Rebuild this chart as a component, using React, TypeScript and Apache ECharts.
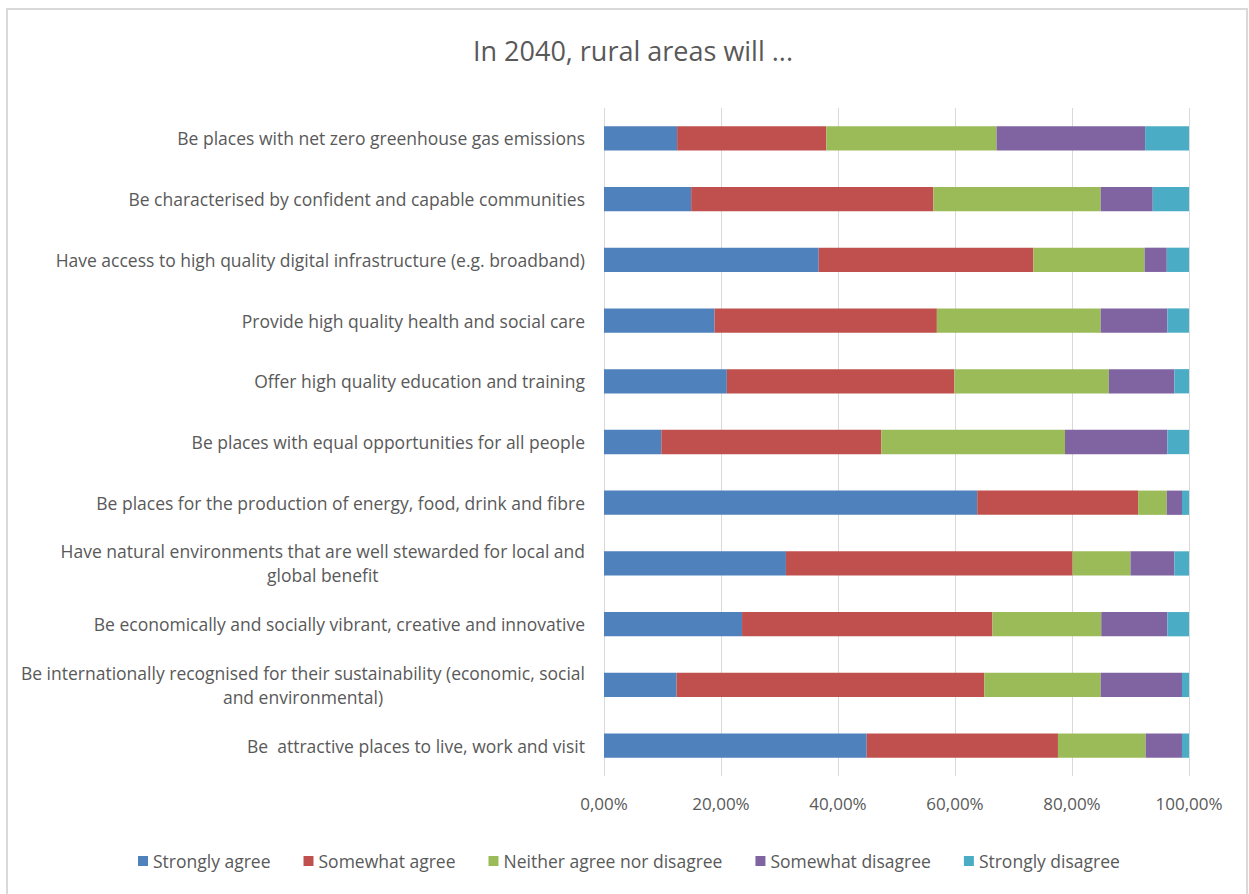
import React, { useEffect, useRef } from "react";
import * as echarts from "echarts";

const categories = [
  "Be places with net zero greenhouse gas emissions",
  "Be characterised by confident and capable communities",
  "Have access to high quality digital infrastructure (e.g. broadband)",
  "Provide high quality health and social care",
  "Offer high quality education and training",
  "Be places with equal opportunities for all people",
  "Be places for the production of energy, food, drink and fibre",
  "Have natural environments that are well stewarded for local and\nglobal benefit",
  "Be economically and socially vibrant, creative and innovative",
  "Be internationally recognised for their sustainability (economic, social\nand environmental)",
  "Be  attractive places to live, work and visit",
];

const seriesNames = [
  "Strongly agree",
  "Somewhat agree",
  "Neither agree nor disagree",
  "Somewhat disagree",
  "Strongly disagree",
];

const stronglyAgree = [12.5, 14.9, 36.7, 18.9, 21.0, 9.8, 63.8, 31.1, 23.6, 12.4, 44.9];
const somewhatAgree = [25.5, 41.4, 36.7, 38.0, 38.9, 37.6, 27.5, 49.0, 42.8, 52.6, 32.7];
const neither = [29.1, 28.6, 19.0, 28.0, 26.4, 31.4, 4.9, 9.9, 18.6, 19.9, 15.0];
const somewhatDisagree = [25.4, 8.9, 3.8, 11.4, 11.2, 17.5, 2.6, 7.5, 11.3, 13.9, 6.2];
const stronglyDisagree = [7.6, 6.2, 3.8, 3.8, 2.5, 3.8, 1.2, 2.5, 3.8, 1.2, 1.2];

const seriesData = [stronglyAgree, somewhatAgree, neither, somewhatDisagree, stronglyDisagree];
const colors = ["#4F81BD", "#C0504D", "#9BBB59", "#8064A2", "#4BACC6"];

const FONT = "'Open Sans', 'Noto Sans', sans-serif";
const TEXT = "#595959";

export default function App() {
  const ref = useRef<HTMLDivElement>(null);
  useEffect(() => {
    if (!ref.current) return;
    const chart = echarts.init(ref.current, null, { renderer: "svg" });
    chart.setOption({
      animation: false,
      backgroundColor: "#ffffff",
      color: colors,
      textStyle: { fontFamily: FONT },
      title: {
        text: "In 2040, rural areas will ...",
        left: 628,
        top: 32,
        textAlign: "center",
        textStyle: { fontFamily: FONT, fontSize: 27, fontWeight: "normal", color: TEXT },
      },
      graphic: [
        {
          type: "rect",
          shape: { x: 7, y: 9, width: 1240, height: 900 },
          style: { fill: "none", stroke: "#d9d9d9", lineWidth: 2 },
          silent: true,
        },
      ],
      legend: {
        data: seriesNames,
        left: 133,
        top: 847,
        itemWidth: 10,
        itemHeight: 10,
        itemGap: 33,
        icon: "rect",
        textStyle: { fontFamily: FONT, fontSize: 17.5, color: TEXT },
      },
      grid: { left: 604, right: 60, top: 108, bottom: 118, containLabel: false },
      xAxis: {
        type: "value",
        min: 0,
        max: 100,
        interval: 20,
        axisLine: { show: false },
        axisTick: { show: false },
        splitLine: { show: true, lineStyle: { color: "#d9d9d9", width: 1 } },
        axisLabel: {
          margin: 19,
          fontFamily: FONT,
          fontSize: 17,
          color: TEXT,
          formatter: (v: number) => v.toFixed(2).replace(".", ",") + "%",
        },
      },
      yAxis: {
        type: "category",
        data: categories,
        inverse: true,
        axisLine: { show: false },
        axisTick: { show: false },
        axisLabel: {
          margin: 19,
          formatter: (v: string) => v.split("\n").map((l) => `{c|${l}}`).join("\n"),
          rich: {
            c: { align: "center", fontFamily: FONT, fontSize: 17.5, color: TEXT, lineHeight: 24 },
          },
        },
      },
      series: seriesNames.map((name, i) => ({
        name,
        type: "bar",
        stack: "total",
        barCategoryGap: "60%",
        data: seriesData[i],
        itemStyle: { color: colors[i] },
      })),
    });
    return () => chart.dispose();
  }, []);
  return (
    <div
      ref={ref}
      style={{ position: "fixed", left: 0, top: 0, width: 1249, height: 894 }}
    />
  );
}
